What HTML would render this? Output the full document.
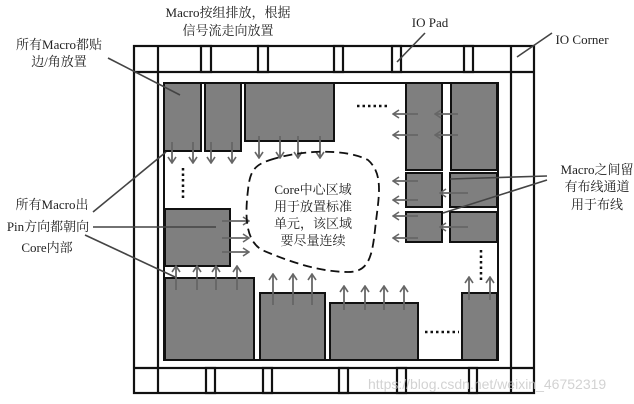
<!DOCTYPE html>
<html><head><meta charset="utf-8"><style>
body{margin:0;background:#fff}
svg{display:block}
text{font-family:"Liberation Serif","Noto Serif CJK SC","Noto Sans CJK SC",serif;font-size:13px;fill:#222}
</style></head><body>
<svg width="634" height="404" viewBox="0 0 634 404" xmlns="http://www.w3.org/2000/svg">
<defs>
<marker id="a" markerWidth="8" markerHeight="10" refX="7" refY="5" orient="auto" markerUnits="userSpaceOnUse">
<path d="M1,1 L7,5 L1,9" fill="none" stroke="#666" stroke-width="1.6"/>
</marker>
</defs>
<!-- pad ring -->
<g fill="none" stroke="#111" stroke-width="2.2">
<rect x="134" y="46" width="400" height="347"/>
<rect x="158" y="72" width="353" height="296"/>
<line x1="134" y1="72" x2="158" y2="72"/><line x1="158" y1="46" x2="158" y2="72"/>
<line x1="511" y1="72" x2="534" y2="72"/><line x1="511" y1="46" x2="511" y2="72"/>
<line x1="134" y1="368" x2="158" y2="368"/><line x1="158" y1="368" x2="158" y2="393"/>
<line x1="511" y1="368" x2="534" y2="368"/><line x1="511" y1="368" x2="511" y2="393"/>
<rect x="201" y="46" width="10" height="26"/><rect x="258" y="46" width="10" height="26"/>
<rect x="334" y="46" width="9" height="26"/><rect x="392" y="46" width="9" height="26"/>
<rect x="464" y="46" width="9" height="26"/>
<rect x="206" y="368" width="9" height="25"/><rect x="263" y="368" width="9" height="25"/>
<rect x="339" y="368" width="9" height="25"/><rect x="397" y="368" width="9" height="25"/>
<rect x="469" y="368" width="8" height="25"/>
<rect x="164" y="83" width="334" height="277" stroke-width="2"/>
</g>
<!-- macros -->
<g fill="#7f7f7f" stroke="#111" stroke-width="2">
<rect x="164" y="83" width="37" height="68"/>
<rect x="205" y="83" width="36" height="68"/>
<rect x="245" y="83" width="89" height="58"/>
<rect x="406" y="83" width="36" height="87"/>
<rect x="451" y="83" width="46" height="87"/>
<rect x="406" y="173" width="36" height="34"/>
<rect x="450" y="173" width="47" height="34"/>
<rect x="406" y="212" width="36" height="30"/>
<rect x="450" y="212" width="47" height="30"/>
<rect x="165" y="209" width="65" height="57"/>
<rect x="165" y="278" width="89" height="82"/>
<rect x="260" y="293" width="65" height="67"/>
<rect x="330" y="303" width="88" height="57"/>
<rect x="462" y="293" width="35" height="67"/>
</g>
<!-- arrows -->
<g stroke="#666" stroke-width="1.8" marker-end="url(#a)">
<line x1="172" y1="142" x2="172" y2="163"/><line x1="193" y1="142" x2="193" y2="163"/>
<line x1="211" y1="142" x2="211" y2="163"/><line x1="232" y1="142" x2="232" y2="163"/>
<line x1="259" y1="136" x2="259" y2="158"/><line x1="280" y1="136" x2="280" y2="158"/>
<line x1="298" y1="136" x2="298" y2="158"/><line x1="320" y1="136" x2="320" y2="158"/>
<line x1="418" y1="114" x2="393" y2="114"/><line x1="418" y1="135" x2="393" y2="135"/>
<line x1="458" y1="114" x2="435" y2="114"/><line x1="458" y1="135" x2="435" y2="135"/>
<line x1="418" y1="181" x2="393" y2="181"/><line x1="418" y1="200" x2="393" y2="200"/>
<line x1="418" y1="216" x2="393" y2="216"/><line x1="418" y1="238" x2="393" y2="238"/>
<line x1="468" y1="193" x2="440" y2="193"/><line x1="468" y1="227" x2="440" y2="227"/>
<line x1="222" y1="221" x2="249" y2="221"/><line x1="222" y1="238" x2="249" y2="238"/>
<line x1="222" y1="252" x2="249" y2="252"/>
<line x1="176" y1="290" x2="176" y2="266"/><line x1="197" y1="290" x2="197" y2="266"/>
<line x1="216" y1="290" x2="216" y2="266"/><line x1="237" y1="290" x2="237" y2="266"/>
<line x1="273" y1="305" x2="273" y2="274"/><line x1="293" y1="305" x2="293" y2="274"/>
<line x1="312" y1="305" x2="312" y2="274"/>
<line x1="344" y1="310" x2="344" y2="286"/><line x1="365" y1="310" x2="365" y2="286"/>
<line x1="384" y1="310" x2="384" y2="286"/><line x1="404" y1="310" x2="404" y2="286"/>
<line x1="469" y1="300" x2="469" y2="277"/><line x1="490" y1="300" x2="490" y2="277"/>
</g>
<!-- dots -->
<g stroke="#111" stroke-width="2.5" stroke-dasharray="2.5,3">
<line x1="357" y1="106" x2="390" y2="106"/>
<line x1="183" y1="168" x2="183" y2="200"/>
<line x1="481" y1="250" x2="481" y2="282"/>
<line x1="425" y1="332" x2="459" y2="332"/>
</g>
<!-- dashed blob -->
<path d="M270,160 C300,150 345,148 368,160 C385,175 378,200 375,230 C372,258 368,272 348,272 C320,272 290,262 262,250 C245,240 245,215 248,190 C250,170 255,165 270,160 Z" fill="none" stroke="#111" stroke-width="1.8" stroke-dasharray="9,5"/>
<text x="313" y="194" text-anchor="middle">Core中心区域</text>
<text x="313" y="211" text-anchor="middle">用于放置标准</text>
<text x="313" y="228" text-anchor="middle">单元，该区域</text>
<text x="313" y="245" text-anchor="middle">要尽量连续</text>
<!-- callout lines -->
<g stroke="#444" stroke-width="1.6">
<line x1="108" y1="58" x2="180" y2="95"/>
<line x1="93" y1="212" x2="166" y2="152"/>
<line x1="93" y1="227" x2="216" y2="227"/>
<line x1="85" y1="235" x2="175" y2="277"/>
<line x1="425" y1="33" x2="397" y2="62"/>
<line x1="552" y1="33" x2="517" y2="57"/>
<line x1="547" y1="176" x2="450" y2="179"/>
<line x1="547" y1="180" x2="443" y2="213"/>
</g>
<text x="228" y="17" text-anchor="middle">Macro按组排放，根据</text>
<text x="228" y="35" text-anchor="middle">信号流走向放置</text>
<text x="59" y="49" text-anchor="middle">所有Macro都贴</text>
<text x="59" y="66" text-anchor="middle">边/角放置</text>
<text x="430" y="27" text-anchor="middle">IO Pad</text>
<text x="582" y="44" text-anchor="middle">IO Corner</text>
<text x="52" y="209" text-anchor="middle">所有Macro出</text>
<text x="48" y="231" text-anchor="middle">Pin方向都朝向</text>
<text x="47" y="252" text-anchor="middle">Core内部</text>
<text x="597" y="174" text-anchor="middle">Macro之间留</text>
<text x="597" y="191" text-anchor="middle">有布线通道</text>
<text x="597" y="209" text-anchor="middle">用于布线</text>
<text x="368" y="389" style="font-family:'Liberation Sans',sans-serif;font-size:14px;fill:#c8c8c8;opacity:0.8">https://blog.csdn.net/weixin_46752319</text>
</svg>
</body></html>
